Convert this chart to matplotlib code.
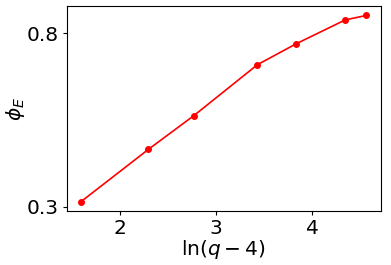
import matplotlib
matplotlib.use("Agg")
import matplotlib.pyplot as plt

x = [1.60, 2.30, 2.77, 3.43, 3.83, 4.34, 4.56]  # ln(q-4)
phi_E = [0.314, 0.465, 0.562, 0.709, 0.769, 0.838, 0.851]

fig = plt.figure(figsize=(3.91, 2.65), dpi=100)
ax = fig.add_axes([0.1706, 0.2038, 0.8031, 0.7732])
ax.plot(x, phi_E, 'r-o', markersize=4, linewidth=1.2)
ax.set_yticks([0.3, 0.8])
ax.set_xticks([2, 3, 4])
ax.tick_params(labelsize=14.5, length=3, pad=2.5)
ax.set_xlabel(r'$\ln(q-4)$', fontsize=14.5, labelpad=0)
ax.set_ylabel(r'$\phi_E$', fontsize=14.5, labelpad=0)

fig.savefig("out.png", dpi=100)
